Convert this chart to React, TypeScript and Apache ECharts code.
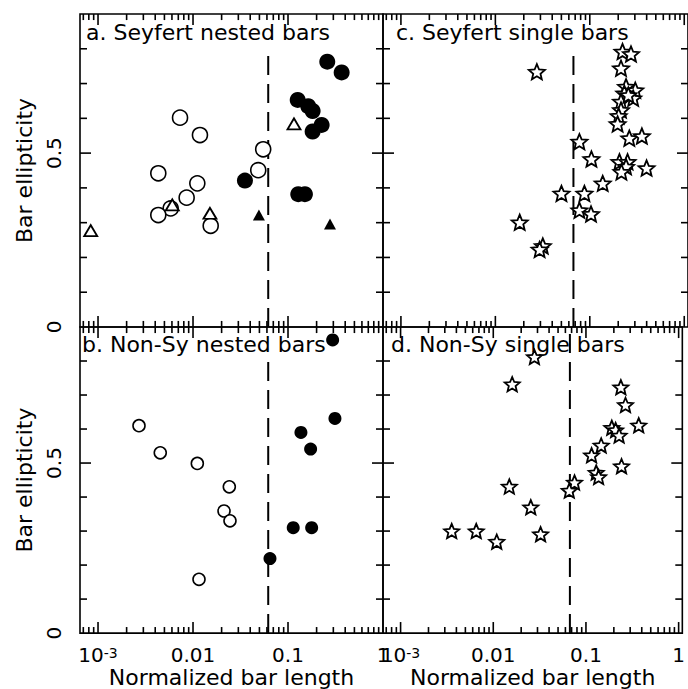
import { useEffect, useRef } from 'react';
import * as echarts from 'echarts';

// ---------- text ----------
const panelTitles = ['a. Seyfert nested bars', 'b. Non-Sy nested bars', 'c. Seyfert single bars', 'd. Non-Sy single bars'];
const xAxisName = 'Normalized bar length';
const yAxisName = 'Bar ellipticity';

// ---------- axes ----------
const xTickValues = [0.001, 0.01, 0.1, 1];
const xTickLabels = ['10^-3', '0.01', '0.1', '1'];
const xMinorTickValues = [
  0.0007, 0.0008, 0.0009,
  0.002, 0.003, 0.004, 0.005, 0.006, 0.007, 0.008, 0.009,
  0.02, 0.03, 0.04, 0.05, 0.06, 0.07, 0.08, 0.09,
  0.2, 0.3, 0.4, 0.5, 0.6, 0.7, 0.8, 0.9,
];
const yTickValues = [0, 0.5];
const yTickLabels = ['0', '0.5'];
const yMinorTickValues = [0.1, 0.2, 0.3, 0.4, 0.6, 0.7, 0.8];
const xMin = 0.000646;
const xMaxLeft = 1;
const xMaxRight = 1.096;
const yMin = 0;
const yMax = 0.9;
const dividerX = [0.0619, 0.0619, 0.0671, 0.0671];
const dividerTop = [0.8, 0.8, 0.8, 0.88];

// ---------- data: panel a (Seyfert nested bars) ----------
const aOpenCircles = [
  [0.0073, 0.602], [0.01183, 0.552], [0.0548, 0.511], [0.0486, 0.451], [0.00431, 0.442],
  [0.0111, 0.413], [0.00857, 0.372], [0.00582, 0.341], [0.00431, 0.322], [0.01535, 0.291],
];
const aOpenTriangles = [[0.000838, 0.277], [0.00605, 0.351], [0.01507, 0.327], [0.1156, 0.584]];
const aFilledCircles = [
  [0.259, 0.763], [0.367, 0.732], [0.1265, 0.653], [0.1633, 0.635], [0.1816, 0.621],
  [0.226, 0.581], [0.1816, 0.562], [0.0352, 0.421], [0.1282, 0.382], [0.1507, 0.382],
];
const aFilledTriangles = [[0.0494, 0.322], [0.2767, 0.296]];

// ---------- data: panel b (Non-Sy nested bars) ----------
const bOpenCircles = [
  [0.0027, 0.61], [0.00452, 0.53], [0.0111, 0.499], [0.0241, 0.43], [0.0212, 0.359],
  [0.0245, 0.33], [0.01156, 0.158],
];
const bFilledCircles = [
  [0.295, 0.862], [0.312, 0.631], [0.1368, 0.59], [0.173, 0.541], [0.1135, 0.31],
  [0.1774, 0.31], [0.0646, 0.219],
];

// ---------- data: panel c (Seyfert single bars) ----------
const cStars = [
  [0.0275, 0.734], [0.222, 0.792], [0.273, 0.785], [0.214, 0.744],
  [0.242, 0.691], [0.303, 0.681], [0.232, 0.672], [0.288, 0.658], [0.214, 0.648], [0.256, 0.667],
  [0.214, 0.624], [0.202, 0.607], [0.197, 0.584], [0.262, 0.543], [0.356, 0.549],
  [0.0776, 0.533], [0.104, 0.483], [0.206, 0.475], [0.251, 0.475], [0.242, 0.461],
  [0.216, 0.446], [0.399, 0.457], [0.137, 0.413], [0.0501, 0.384], [0.0877, 0.384],
  [0.0776, 0.336], [0.103, 0.325], [0.0181, 0.301], [0.0318, 0.233], [0.0294, 0.223],
];

// ---------- data: panel d (Non-Sy single bars) ----------
const dStars = [
  [0.0278, 0.812], [0.016, 0.732], [0.238, 0.723], [0.267, 0.671], [0.371, 0.611],
  [0.19, 0.604], [0.209, 0.597], [0.228, 0.581], [0.146, 0.552], [0.115, 0.523],
  [0.242, 0.491], [0.129, 0.472], [0.137, 0.459], [0.0753, 0.443], [0.0661, 0.419],
  [0.0149, 0.431], [0.0254, 0.37], [0.0324, 0.291], [0.00356, 0.3], [0.00655, 0.3],
  [0.0109, 0.269],
];

const FONT = '"DejaVu Sans", sans-serif';
const STAR =
  'path://M10,0L12.645,6.359L19.511,6.91L14.28,11.391L15.878,18.09L10,14.5L4.122,18.09L5.72,11.391L0.489,6.91L7.355,6.359Z';

const panels = [
  { grid: { left: 80, top: 14, width: 303, height: 313 }, xMax: xMaxLeft, showX: false, showY: true, tx: 86, ty: 32 },
  { grid: { left: 80, top: 327, width: 303, height: 311 }, xMax: xMaxLeft, showX: true, showY: true, tx: 82, ty: 344.5 },
  { grid: { left: 383, top: 14, width: 306, height: 313 }, xMax: xMaxRight, showX: false, showY: false, tx: 396, ty: 32 },
  { grid: { left: 383, top: 327, width: 306, height: 311 }, xMax: xMaxRight, showX: true, showY: false, tx: 391, ty: 344.5 },
];

const X_MAJOR_LEN = 11;
const X_MINOR_LEN = 6;
const Y_MAJOR_LEN = 11;
const Y_MINOR_LEN = 7;
const TICK_W = 1.6;

function xLabel(v: number) {
  const i = xTickValues.findIndex((t) => Math.abs(Math.log10(v) - Math.log10(t)) < 1e-6);
  if (i < 0) return '';
  const parts = xTickLabels[i].split('^');
  return parts.length > 1 ? `{b|${parts[0]}}{s|${parts[1]}}` : `{b|${parts[0]}}`;
}

function yLabel(v: number) {
  const i = yTickValues.findIndex((t) => Math.abs(t - v) < 1e-9);
  return i < 0 ? '' : yTickLabels[i];
}

function scatter(gi: number, data: number[][], symbol: string, size: number | number[], filled: boolean, bw = 1.6) {
  return {
    type: 'scatter',
    xAxisIndex: gi,
    yAxisIndex: gi,
    data,
    symbol,
    symbolSize: size,
    symbolKeepAspect: true,
    silent: true,
    z: 3,
    itemStyle: filled
      ? { color: '#000', borderColor: '#000', borderWidth: 0, opacity: 1 }
      : { color: '#fff', borderColor: '#000', borderWidth: bw, opacity: 1 },
  };
}

// a tick mark = a thin black rect symbol anchored just inside the frame, placed by the panel's own axes
function tickMarks(gi: number, data: number[][], size: number[], offset: number[]) {
  return {
    type: 'scatter',
    xAxisIndex: gi,
    yAxisIndex: gi,
    data,
    symbol: 'rect',
    symbolSize: size,
    symbolOffset: offset,
    silent: true,
    z: 4,
    itemStyle: { color: '#000', borderColor: '#000', borderWidth: 0, opacity: 1 },
  };
}

function tickSeries(gi: number) {
  const p = panels[gi];
  const yLo = yMin + 0.0002;
  const yHi = yMax - 0.0002;
  const xLo = xMin * 1.0005;
  const xHi = p.xMax / 1.0005;
  const xs = (vals: number[]) => vals.filter((v) => v > xMin && v < p.xMax);
  const ys = (vals: number[]) => vals.filter((v) => v > yMin && v < yMax);
  const out: any[] = [];
  const xMaj = xs(xTickValues);
  const xMinr = xs(xMinorTickValues);
  out.push(tickMarks(gi, xMaj.map((v) => [v, yLo]), [TICK_W, X_MAJOR_LEN], [0, -X_MAJOR_LEN / 2]));
  out.push(tickMarks(gi, xMaj.map((v) => [v, yHi]), [TICK_W, X_MAJOR_LEN], [0, X_MAJOR_LEN / 2]));
  out.push(tickMarks(gi, xMinr.map((v) => [v, yLo]), [TICK_W, X_MINOR_LEN], [0, -X_MINOR_LEN / 2]));
  out.push(tickMarks(gi, xMinr.map((v) => [v, yHi]), [TICK_W, X_MINOR_LEN], [0, X_MINOR_LEN / 2]));
  const yMaj = ys(yTickValues);
  const yMinr = ys(yMinorTickValues);
  out.push(tickMarks(gi, yMaj.map((v) => [xLo, v]), [Y_MAJOR_LEN, TICK_W], [Y_MAJOR_LEN / 2, 0]));
  out.push(tickMarks(gi, yMaj.map((v) => [xHi, v]), [Y_MAJOR_LEN, TICK_W], [-Y_MAJOR_LEN / 2, 0]));
  out.push(tickMarks(gi, yMinr.map((v) => [xLo, v]), [Y_MINOR_LEN, TICK_W], [Y_MINOR_LEN / 2, 0]));
  out.push(tickMarks(gi, yMinr.map((v) => [xHi, v]), [Y_MINOR_LEN, TICK_W], [-Y_MINOR_LEN / 2, 0]));
  return out;
}

function buildOption() {
  const grid = panels.map((p) => ({
    ...p.grid,
    show: true,
    borderColor: '#000',
    borderWidth: 1.6,
    backgroundColor: 'rgba(0,0,0,0)',
    containLabel: false,
  }));
  const xAxis = panels.map((p, i) => ({
    type: 'log',
    logBase: 10,
    gridIndex: i,
    min: xMin,
    max: p.xMax,
    axisLine: { show: false },
    axisTick: { show: false },
    minorTick: { show: false },
    splitLine: { show: false },
    axisLabel: {
      show: p.showX,
      margin: 13,
      formatter: xLabel,
      rich: {
        b: { fontSize: 20, lineHeight: 18, verticalAlign: 'middle', fontFamily: FONT, color: '#000' },
        s: { fontSize: 14, lineHeight: 4, verticalAlign: 'top', fontFamily: FONT, color: '#000' },
      },
    },
    name: p.showX ? xAxisName : '',
    nameLocation: 'middle',
    nameGap: 30,
    nameTextStyle: { fontSize: 22, lineHeight: 18, fontFamily: FONT, color: '#000' },
  }));
  const yAxis = panels.map((p, i) => ({
    type: 'value',
    gridIndex: i,
    min: yMin,
    max: yMax,
    interval: 0.5,
    axisLine: { show: false },
    axisTick: { show: false },
    splitLine: { show: false },
    axisLabel: {
      show: p.showY,
      rotate: 90,
      margin: 16,
      formatter: yLabel,
      fontSize: 20,
      fontFamily: FONT,
      color: '#000',
    },
    name: p.showY ? yAxisName : '',
    nameLocation: 'middle',
    nameRotate: 90,
    nameGap: 45,
    nameTextStyle: { fontSize: 22, fontFamily: FONT, color: '#000' },
  }));

  const series: any[] = [];
  panels.forEach((_p, i) => {
    series.push({
      type: 'line',
      xAxisIndex: i,
      yAxisIndex: i,
      data: [[dividerX[i], yMin], [dividerX[i], dividerTop[i]]],
      showSymbol: false,
      symbol: 'none',
      silent: true,
      lineStyle: { color: '#000', width: 2, type: [19, 9] },
      z: 1,
    });
    series.push(...tickSeries(i));
  });
  series.push(scatter(0, aOpenCircles, 'circle', 15, false));
  series.push(scatter(0, aOpenTriangles, 'triangle', [13, 11], false, 1.8));
  series.push(scatter(0, aFilledCircles, 'circle', 16, true));
  series.push(scatter(0, aFilledTriangles, 'triangle', [12, 11], true));
  series.push(scatter(1, bOpenCircles, 'circle', 12, false));
  series.push(scatter(1, bFilledCircles, 'circle', 13, true));
  series.push(scatter(2, cStars, STAR, 16, false, 1.8));
  series.push(scatter(3, dStars, STAR, 15, false, 1.8));

  const graphic = panels.map((p, i) => ({
    type: 'text',
    x: p.tx,
    y: p.ty,
    silent: true,
    z: 10,
    style: {
      text: panelTitles[i],
      fill: '#000',
      fontSize: 22,
      fontFamily: FONT,
      verticalAlign: 'middle',
      align: 'left',
    },
  }));

  return {
    animation: false,
    backgroundColor: '#fff',
    textStyle: { fontFamily: FONT, color: '#000' },
    grid,
    xAxis,
    yAxis,
    series,
    graphic,
  };
}

export default function App() {
  const ref = useRef<HTMLDivElement>(null);
  useEffect(() => {
    const chart = echarts.init(ref.current as HTMLDivElement, null, { renderer: 'svg' });
    chart.setOption(buildOption() as any);
    return () => chart.dispose();
  }, []);
  return (
    <div
      ref={ref}
      style={{ position: 'fixed', left: 0, top: 0, width: 688, height: 689, background: '#fff' }}
    />
  );
}
